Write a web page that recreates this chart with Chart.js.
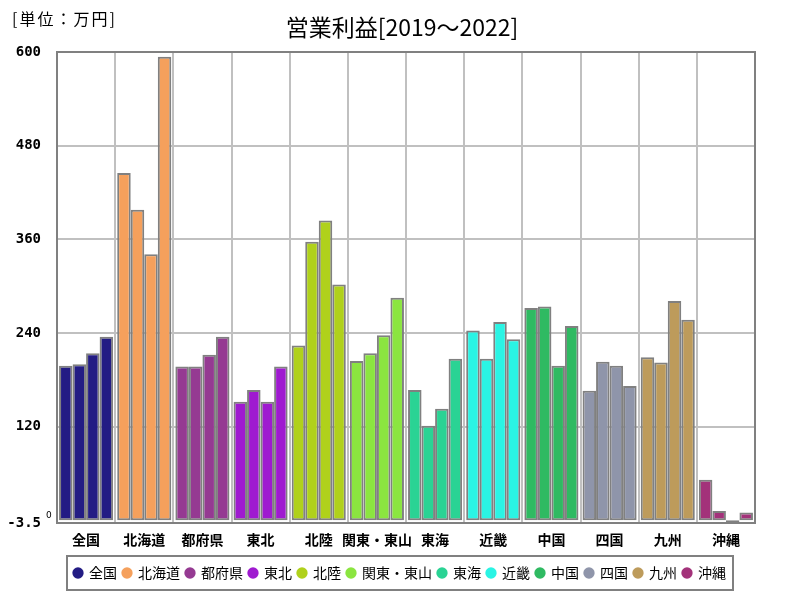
<!DOCTYPE html>
<html>
<head>
<meta charset="utf-8">
<script src="https://cdn.jsdelivr.net/npm/chart.js@4.4.1/dist/chart.umd.min.js"></script>
<style>
html,body{margin:0;padding:0;background:#fff;}
#wrap{width:800px;height:600px;position:relative;}
</style>
</head>
<body>
<div id="wrap"><canvas id="c" width="800" height="600"></canvas></div>
<script>
const categories = ['全国','北海道','都府県','東北','北陸','関東・東山','東海','近畿','中国','四国','九州','沖縄'];
const years = ['2019','2020','2021','2022'];
const v2019 = [198, 445, 197, 152, 224, 204, 167, 243, 272, 166, 209, 52];
const v2020 = [200, 398, 197, 167, 357, 214, 121, 207, 274, 203, 202, 12];
const v2021 = [214, 341, 212, 152, 384, 237, 143, 254, 198, 198, 281, -3];
const v2022 = [235, 594, 235, 197, 302, 285, 207, 232, 249, 172, 257, 10];
const yTicks = [-3.5, 120, 240, 360, 480, 600];
const colors = ['#231c84','#f5a05c','#953a92','#9f1ad0','#b0d11b','#8be540','#2ad394','#2af4e4','#2fba62','#8f95aa','#bd9b5b','#a3327a'];
const titleText = '営業利益[2019～2022]';
const unitText = '[単位：万円]';

const series = [v2019, v2020, v2021, v2022];
const datasets = years.map((y, i) => ({
  label: y,
  data: series[i],
  backgroundColor: colors,
  borderColor: '#808080',
  borderWidth: 2,
  borderSkipped: false,
  barPercentage: 1.0,
  categoryPercentage: 0.93,
  yAxisID: 'y'
}));

const decor = {
  id: 'decor',
  beforeDraw(chart) {
    const ctx = chart.ctx;
    ctx.save();
    ctx.fillStyle = '#fff';
    ctx.fillRect(0, 0, chart.width, chart.height);
    ctx.restore();
  },
  afterDraw(chart) {
    const ctx = chart.ctx;
    const a = chart.chartArea;
    ctx.save();
    ctx.strokeStyle = '#808080';
    ctx.lineWidth = 2;
    ctx.strokeRect(a.left, a.top, a.right - a.left, a.bottom - a.top);
    ctx.fillStyle = '#000';
    ctx.textBaseline = 'middle';
    ctx.textAlign = 'center';
    ctx.font = '23px "Noto Sans CJK JP"';
    ctx.fillText(titleText, 402, 27);
    ctx.textAlign = 'left';
    ctx.font = '16px "Noto Sans CJK JP"';
    try { ctx.letterSpacing = '2px'; } catch (e) {}
    ctx.fillText(unitText, 12, 19);
    try { ctx.letterSpacing = '0px'; } catch (e) {}
    const ys = chart.scales.y;
    ctx.font = '9px "DejaVu Sans"';
    ctx.fillText('0', 46, ys.getPixelForValue(0) - 5);
    const lg = chart.legend;
    if (lg && lg.legendHitBoxes && lg.legendHitBoxes.length) {
      const hb = lg.legendHitBoxes;
      let l = Infinity, r = -Infinity, t = Infinity, b = -Infinity;
      hb.forEach(h => { l = Math.min(l, h.left); r = Math.max(r, h.left + h.width); t = Math.min(t, h.top); b = Math.max(b, h.top + h.height); });
      ctx.strokeStyle = '#808080';
      ctx.lineWidth = 2;
      ctx.strokeRect(l - 7, t - 10, (r - l) + 14, (b - t) + 20);
    }
    ctx.restore();
  }
};

new Chart(document.getElementById('c'), {
  type: 'bar',
  data: { labels: categories, datasets },
  plugins: [decor],
  options: {
    responsive: false,
    animation: false,
    layout: { padding: { left: 0, right: 0, top: 52, bottom: 10 } },
    plugins: {
      title: { display: false },
      tooltip: { enabled: false },
      legend: {
        position: 'bottom',
        labels: {
          usePointStyle: true,
          pointStyle: 'circle',
          boxWidth: 8,
          boxHeight: 8,
          padding: 6,
          color: '#000',
          font: { family: '"Noto Sans CJK JP"', size: 14 },
          generateLabels(chart) {
            return categories.map((c, i) => ({
              text: c,
              fillStyle: colors[i],
              strokeStyle: colors[i],
              lineWidth: 0,
              pointStyle: 'circle',
              hidden: false,
              datasetIndex: 0
            }));
          }
        },
        onClick: null
      }
    },
    scales: {
      x: {
        grid: { color: '#c0c0c0', lineWidth: 2, drawTicks: false, offset: true },
        border: { display: true, color: '#808080', width: 2 },
        ticks: {
          color: '#000',
          padding: 8,
          maxRotation: 0,
          autoSkip: false,
          font: { family: '"Noto Sans CJK JP"', size: 14, weight: 'bold' }
        },
        afterFit(s) { s.height = 37; }
      },
      y: {
        min: -3.5,
        max: 600,
        grid: { color: '#c0c0c0', lineWidth: 2, drawTicks: false },
        border: { display: true, color: '#808080', width: 2 },
        afterBuildTicks(s) { s.ticks = yTicks.map(v => ({ value: v })); },
        ticks: {
          color: '#000',
          padding: 16,
          font: { family: '"DejaVu Sans Mono"', size: 14, weight: 'bold' },
          callback: v => String(v)
        },
        afterFit(s) { s.width = 57; }
      },
      yr: {
        position: 'right',
        min: -3.5,
        max: 600,
        grid: { drawOnChartArea: false, drawTicks: false },
        border: { display: false },
        ticks: { display: false },
        afterFit(s) { s.width = 45; }
      }
    }
  }
});
</script>
</body>
</html>
